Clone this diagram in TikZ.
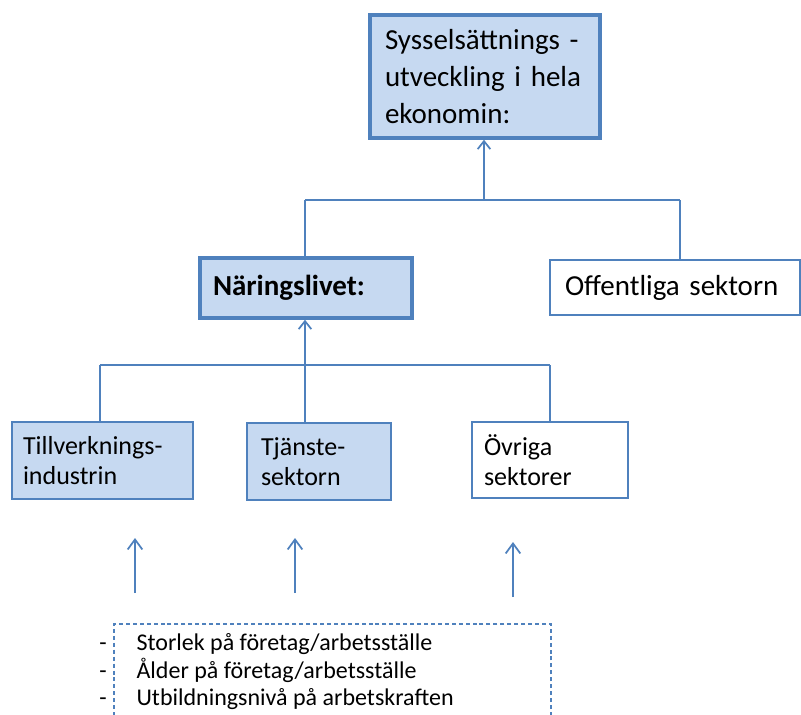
\documentclass[tikz,border=0pt]{standalone}
\usepackage{fontspec}
\setmainfont{Carlito}
\usetikzlibrary{arrows.meta}
\definecolor{boxfill}{HTML}{C6D9F1}
\definecolor{boxline}{HTML}{4F81BD}
\begin{document}
\begin{tikzpicture}[x=0.75pt,y=-0.75pt,
  every node/.style={inner ysep=0pt},
  bigfont/.style={font=\fontsize{21.75}{27.5}\selectfont},
  smallfont/.style={font=\fontsize{19.5}{22}\selectfont},
  listfont/.style={font=\fontsize{18}{20.6}\selectfont},
  mainbox/.style={draw=boxline, fill=boxfill, line width=2.6pt, align=left},
  subbox/.style={draw=boxline, fill=boxfill, line width=1.6pt, align=left},
  plainbox/.style={draw=boxline, fill=white, line width=1.2pt, align=left},
  conn/.style={draw=boxline, line width=1.5pt},
  arr/.style={conn, -{Straight Barb[length=6pt,width=9.5pt,line width=1.3pt]}},
  bigarr/.style={conn, -{Straight Barb[length=7.5pt,width=11pt,line width=1.3pt]}},
  dashbox/.style={draw=boxline, line width=1.5pt, dash pattern=on 3pt off 2.2pt}
]
\useasboundingbox (0,0) rectangle (801,715);
\clip (0,0) rectangle (801,715);

% boxes
\node[mainbox, bigfont, minimum width=172.5pt, minimum height=92.25pt,
      inner xsep=11.25pt, text width=150pt] (top) at (485,76.5)
  {Sysselsättnings -\\utveckling i hela\\ekonomin:};
\node[mainbox, bigfont, minimum width=159pt, minimum height=45pt,
      inner xsep=9.75pt, text width=139.5pt] (nar) at (306,288)
  {\bfseries Näringslivet:};
\node[plainbox, bigfont, minimum width=187.5pt, minimum height=41.25pt,
      inner xsep=11.25pt, text width=165pt] (off) at (675,287.5)
  {Offentliga sektorn};
\node[subbox, smallfont, minimum width=135.75pt, minimum height=57.75pt,
      inner xsep=8.25pt, text width=119.25pt] (till) at (102.5,460.5)
  {Tillverknings-\\industrin};
\node[subbox, smallfont, minimum width=108pt, minimum height=57.75pt,
      inner xsep=10.5pt, text width=87pt] (tj) at (319,461.5)
  {Tjänste-\\sektorn};
\node[plainbox, smallfont, minimum width=117pt, minimum height=57pt,
      inner xsep=9pt, text width=99pt] (ov) at (550,460)
  {Övriga\\sektorer};

% upper tree
\coordinate (ja) at (484,200);
\coordinate (jl) at (305,200);
\coordinate (jr) at (680,200);
\draw[conn] (jl) -- (jr);
\draw[arr] (ja) -- (ja |- top.south);
\draw[conn] (jl) -- (jl |- nar.north);
\draw[conn] (jr) -- (jr |- off.north);

% lower tree
\coordinate (kb) at (305,365);
\coordinate (kl) at (100,365);
\coordinate (kr) at (550,365);
\draw[conn] (kl) -- (kr);
\draw[arr] (kb) -- (kb |- nar.south);
\draw[conn] (kl) -- (kl |- till.north);
\draw[conn] (kb) -- (kb |- tj.north);
\draw[conn] (kr) -- (kr |- ov.north);

% factor arrows
\coordinate (a1) at (135,593);
\coordinate (b1) at (135,538);
\coordinate (a2) at (295,593);
\coordinate (b2) at (295,538);
\coordinate (a3) at (513,597);
\coordinate (b3) at (513,542);
\draw[bigarr] (a1) -- (b1);
\draw[bigarr] (a2) -- (b2);
\draw[bigarr] (a3) -- (b3);

% dashed box with list
\node[dashbox, minimum width=327.75pt, minimum height=100pt, anchor=north west,
      inner sep=0pt] (fac) at (113,623) {};
\node[listfont, anchor=base west, inner sep=0pt] (l1) at (99,650)
  {\makebox[28pt][l]{-}Storlek på företag/arbetsställe};
\node[listfont, anchor=base west, inner sep=0pt] (l2) at (99,678)
  {\makebox[28pt][l]{-}Ålder på företag/arbetsställe};
\node[listfont, anchor=base west, inner sep=0pt] (l3) at (99,705)
  {\makebox[28pt][l]{-}Utbildningsnivå på arbetskraften};
\end{tikzpicture}
\end{document}
